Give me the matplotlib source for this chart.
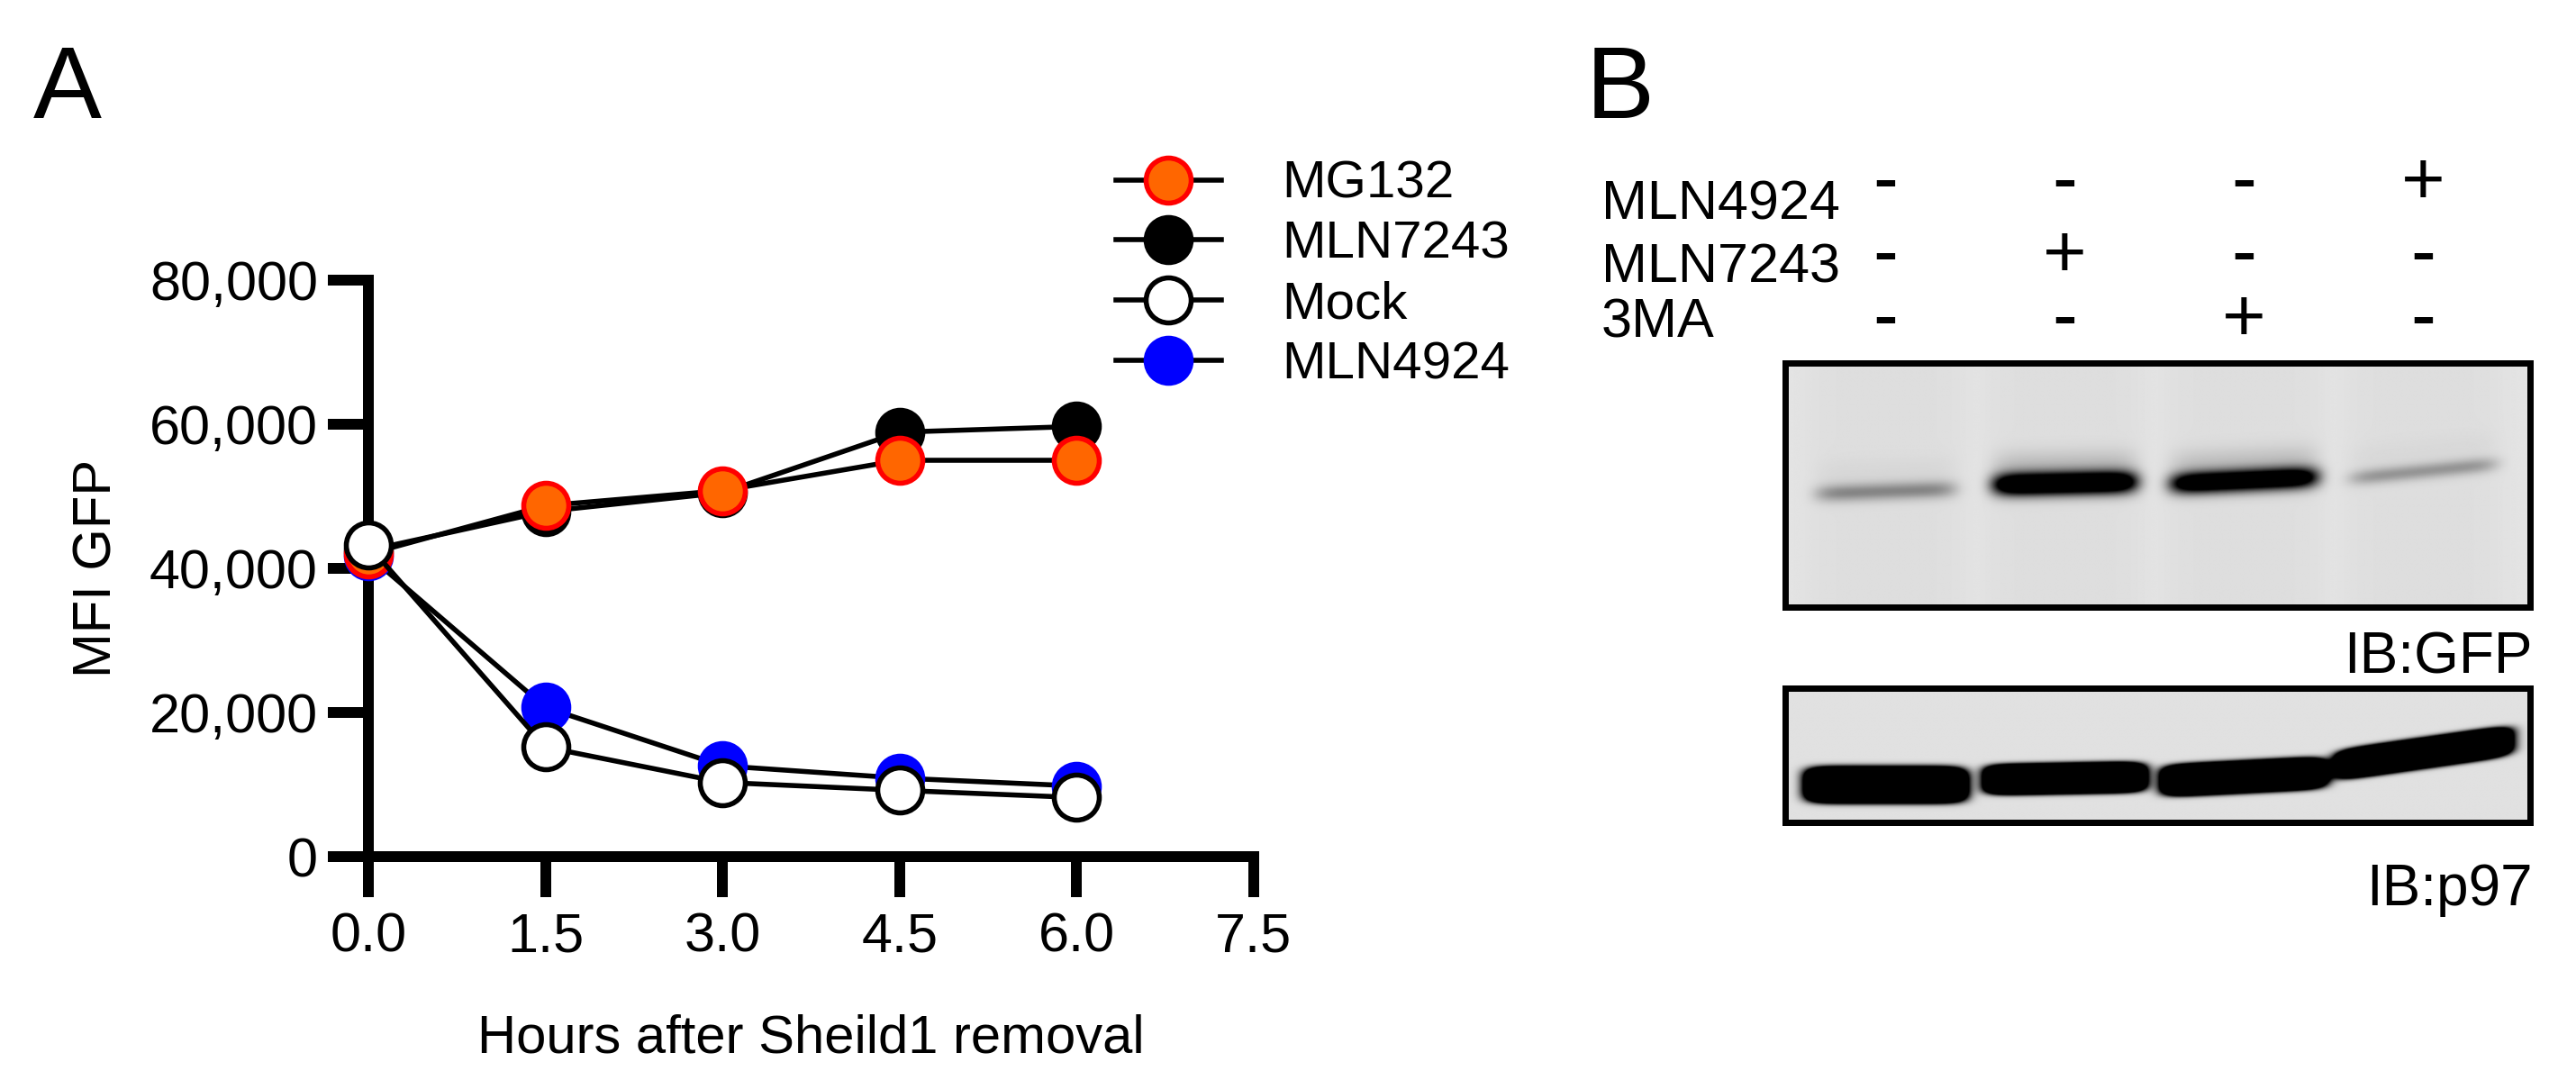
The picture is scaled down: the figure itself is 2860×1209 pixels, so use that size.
import numpy as np
import matplotlib
matplotlib.use("Agg")
import matplotlib.pyplot as plt
import matplotlib.transforms as mtransforms

plt.rcParams['font.family'] = ['Liberation Sans', 'DejaVu Sans']

# ---------------- data ----------------
hours = [0.0, 1.5, 3.0, 4.5, 6.0]
mg132 = [42000, 48700, 50800, 55000, 55000]
mln7243 = [42500, 47900, 50500, 58900, 59700]
mock = [43200, 15200, 10300, 9200, 8200]
mln4924 = [41800, 20700, 12600, 10900, 9800]

x_ticks = [0.0, 1.5, 3.0, 4.5, 6.0, 7.5]
y_ticks = [0, 20000, 40000, 60000, 80000]

lanes = [0, 1, 2, 3]
treat_rows = ['MLN4924', 'MLN7243', '3MA']
treat_signs = [['-', '-', '-', '+'],
               ['-', '+', '-', '-'],
               ['-', '-', '+', '-']]
gfp_density = [0.22, 1.0, 0.9, 0.18]
p97_density = [1.0, 1.0, 1.0, 1.0]

# ---------------- figure ----------------
W, H, DPI = 2860, 1209, 200
fig = plt.figure(figsize=(W / DPI, H / DPI), dpi=DPI)
fig.patch.set_facecolor('white')


def rect(x0, y0, x1, y1):
    """pixel box (top-left origin) -> figure fraction rect"""
    return [x0 / W, 1 - y1 / H, (x1 - x0) / W, (y1 - y0) / H]


PT = 72 / DPI  # points per pixel

# ---------------- panel A ----------------
ax = fig.add_axes(rect(409, 311, 1392, 951))
series = [
    ('MLN4924', mln4924, dict(mfc='#0000FF', mec='#0000FF')),
    ('MLN7243', mln7243, dict(mfc='black', mec='black')),
    ('MG132', mg132, dict(mfc='#FF6600', mec='#FF0000')),
    ('Mock', mock, dict(mfc='white', mec='black')),
]
handles = {}
for z, (name, vals, sty) in enumerate(series):
    ln, = ax.plot(hours, vals, color='black', lw=2.0, marker='o', ms=18,
                  mew=2.0, clip_on=False, zorder=3 + z, label=name, **sty)
    handles[name] = ln

ax.set_xlim(0, 7.5)
ax.set_ylim(0, 80000)
ax.set_xticks(x_ticks)
ax.set_xticklabels([f'{v:.1f}' for v in x_ticks])
ax.set_yticks(y_ticks)
ax.set_yticklabels([f'{v:,}' for v in y_ticks])
for s in ['top', 'right']:
    ax.spines[s].set_visible(False)
for s in ['left', 'bottom']:
    ax.spines[s].set_linewidth(12 * PT)
ax.tick_params(axis='both', direction='out', length=45 * PT, width=12 * PT,
               labelsize=22)
ax.tick_params(axis='y', pad=4)
ax.tick_params(axis='x', pad=6)
ax.set_xlabel('Hours after Sheild1 removal', fontsize=21.5, labelpad=20)
ax.set_ylabel('MFI GFP', fontsize=21.5, labelpad=11)

order = ['MG132', 'MLN7243', 'Mock', 'MLN4924']
leg = ax.legend([handles[k] for k in order], order, loc='upper left',
                bbox_to_anchor=(1239 / W, 1 - 178 / H),
                bbox_transform=fig.transFigure, frameon=False, fontsize=21,
                handlelength=2.0, handletextpad=1.15, borderpad=0,
                borderaxespad=0, labelspacing=0.22)

fig.text(37 / W, 1 - 131 / H, 'A', fontsize=41, ha='left', va='baseline')
fig.text(1761 / W, 1 - 131 / H, 'B', fontsize=41, ha='left', va='baseline')

# ---------------- panel B : gels ----------------
lane0_px, lane_step = 2093, 199
gx0, gx1 = 1981.5, 2809.0
xlim = ((gx0 - lane0_px) / lane_step, (gx1 - lane0_px) / lane_step)


def gel_image(nx, ny, density, centers, tilts, halfw, thick, expo, gain,
              bg, gap_light=0.0, halo=0.0):
    xs = np.linspace(xlim[0], xlim[1], nx)
    ys = np.linspace(0, 1, ny)
    X, Y = np.meshgrid(xs, ys)
    D = np.zeros_like(X)
    lane_mask = np.zeros_like(X)
    for i, lx in enumerate(lanes):
        u = (X - lx) / halfw[i]
        wx = np.exp(-np.abs(u) ** 8)
        lane_mask = np.maximum(lane_mask, np.exp(-np.abs((X - lx) / 0.47) ** 6))
        yc = centers[i] + tilts[i] * u
        v = (Y - yc) / thick[i]
        D += gain * density[i] * np.exp(-np.abs(v) ** expo) * wx
        if halo:
            vh = (Y - (yc - 0.08)) / 0.06
            D += halo * density[i] * np.exp(-vh ** 2) * wx
    D = np.clip(D, 0, 1)
    base = bg + gap_light * (1 - lane_mask)
    return base * (1 - D)


def gel_axes(box):
    g = fig.add_axes(rect(*box))
    g.set_xlim(*xlim)
    g.set_ylim(1, 0)
    g.set_xticks([])
    g.set_yticks([])
    for s in g.spines.values():
        s.set_linewidth(7 * PT)
        s.set_color('black')
        s.set_zorder(5)
    return g


# GFP blot
g1 = gel_axes((gx0, 402.5, gx1, 673.5))
img1 = gel_image(900, 300, gfp_density,
                 centers=[0.53, 0.497, 0.485, 0.447],
                 tilts=[-0.01, -0.006, -0.014, -0.03],
                 halfw=[0.39, 0.40, 0.41, 0.41],
                 thick=[0.036, 0.045, 0.043, 0.032],
                 expo=2, gain=1.8, bg=0.87, gap_light=0.025, halo=0.14)
g1.imshow(img1, cmap='gray', vmin=0, vmax=1, aspect='auto',
          extent=(xlim[0], xlim[1], 1, 0), interpolation='bilinear')

# p97 blot
g2 = gel_axes((gx0, 763.5, gx1, 912.5))
img2 = gel_image(900, 200, p97_density,
                 centers=[0.728, 0.68, 0.668, 0.49],
                 tilts=[0.0, -0.01, -0.03, -0.09],
                 halfw=[0.43, 0.43, 0.44, 0.47],
                 thick=[0.12, 0.10, 0.105, 0.10],
                 expo=4, gain=6.0, bg=0.88)
g2.imshow(img2, cmap='gray', vmin=0, vmax=1, aspect='auto',
          extent=(xlim[0], xlim[1], 1, 0), interpolation='bilinear')

fig.text(2812 / W, 1 - 747 / H, 'IB:GFP', fontsize=23, ha='right',
         va='baseline')
fig.text(2812 / W, 1 - 1005 / H, 'IB:p97', fontsize=23, ha='right',
         va='baseline')

# treatment table
label_baselines = [243, 313, 375]
sign_baselines = [226, 307, 378]
trans = mtransforms.blended_transform_factory(g1.transData, fig.transFigure)
for r, name in enumerate(treat_rows):
    fig.text(1778 / W, 1 - label_baselines[r] / H, name, fontsize=22,
             ha='left', va='baseline')
    for lx, sgn in zip(lanes, treat_signs[r]):
        fig.text(lx, 1 - sign_baselines[r] / H, sgn, fontsize=30,
                 ha='center', va='baseline', transform=trans)

fig.savefig('out.png', dpi=DPI)
